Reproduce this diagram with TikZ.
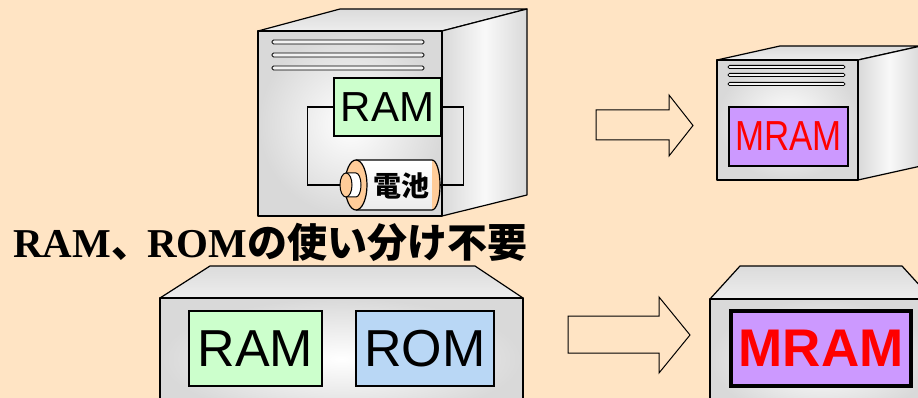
\documentclass[tikz,border=0pt]{standalone}
\usepackage{fontspec}
\newfontfamily\arial{Liberation Sans}
\newfontfamily\timesfont{Liberation Serif}
\newfontfamily\gothic{Noto Sans CJK JP}
\usetikzlibrary{positioning}

\definecolor{bisque}{RGB}{255,228,196}
\definecolor{ramgreen}{RGB}{204,255,204}
\definecolor{romblue}{RGB}{185,215,245}
\definecolor{mrampurple}{RGB}{204,153,255}
\definecolor{battorange}{RGB}{255,204,153}

\newcommand\jp[1]{{\gothic\fontsize{40}{40}\selectfont #1}}

\begin{document}
\begin{tikzpicture}[x=1pt, y=-1pt,
  face/.style={draw, line width=1.2pt, line join=round},
  front/.style={face, inner color=white, outer color=gray!30},
  side/.style={face, left color=gray!30, right color=gray!30, middle color=gray!5},
  lid/.style={face, top color=gray!28, bottom color=gray!14},
  vent/.style={draw, line width=0.8pt, fill=gray!10, rounded corners=1.5pt},
  module/.style={draw, line width=2.8pt, fill=#1, inner sep=0pt},
  wire/.style={draw, line width=1.3pt},
  bigarrow/.style={draw, line width=1pt, line join=miter}]

  \fill[bisque] (0,0) rectangle (918,398);
  \useasboundingbox (0,0) rectangle (918,398);
  \clip (0,0) rectangle (918,398);

  % old machine: RAM kept alive by a battery
  \path[lid]   (258,31) -- (340,9) -- (527,9) -- (442,31) -- cycle;
  \path[side]  (442,31) -- (527,9) -- (527,195) -- (442,216) -- cycle;
  \path[front] (258,31) rectangle (442,216);
  \foreach \y in {42,55,68}
    \path[vent] (272,\y-2) rectangle (424,\y+2);

  \coordinate (battL) at (340,185);
  \coordinate (battR) at (440,185);
  \node[module=ramgreen, minimum width=107pt, minimum height=58pt,
        font=\arial\fontsize{42}{42}\selectfont] (ramA) at (387.5,107) {RAM};
  \draw[wire] (ramA.west) -- ++(-25,0) |- (battL);
  \draw[wire] (ramA.east) -- ++(21,0) |- (battR);

  % battery
  \path[top color=white, bottom color=gray!15]
    (356,160) -- (432,160) arc[start angle=-90, end angle=90, x radius=8, y radius=25]
    -- (356,210) -- cycle;
  \fill[battorange] (432,160) arc[start angle=-90, end angle=90, x radius=8, y radius=25] -- cycle;
  \draw[line width=1.2pt]
    (356,160) -- (432,160) arc[start angle=-90, end angle=90, x radius=8, y radius=25]
    -- (356,210);
  \draw[line width=1.2pt, fill=battorange] (356,185) ellipse[x radius=11, y radius=25];
  \draw[line width=1pt, fill=white]
    (346,173) -- (356,173) arc[start angle=-90, end angle=90, x radius=5, y radius=12]
    -- (346,197) -- cycle;
  \draw[line width=1pt, fill=battorange] (346,185) ellipse[x radius=6, y radius=12];
  \node[font=\gothic\bfseries\fontsize{28}{28}\selectfont] (batt) at (401,186) {電池};

  % new machine, top row
  \draw[bigarrow] (596,110) -- (669,110) -- (669,95) -- (693,125.5)
    -- (669,156) -- (669,140) -- (596,140) -- cycle;
  \path[lid]   (717,60) -- (780,46) -- (921,46) -- (858,60) -- cycle;
  \path[side]  (858,60) -- (921,46) -- (921,166) -- (858,180) -- cycle;
  \path[front] (717,60) rectangle (858,180);
  \foreach \y in {67,75,84}
    \path[vent] (728,\y-1.6) rectangle (845,\y+1.6);
  \node[module=mrampurple, minimum width=119pt, minimum height=59pt, text=red,
        font=\arial\fontsize{42}{42}\selectfont] (mramA) at (788.5,136.5)
        {\scalebox{0.83}[1]{MRAM}};

  \node[anchor=base west, inner sep=0pt, font=\bfseries\fontsize{41}{41}\selectfont]
    (title) at (13,258) {\timesfont RAM\jp{、}\kern-4pt ROM\jp{の使い分け不要}};

  % RAM and ROM side by side
  \path[lid]   (160,298) -- (210,266) -- (475,266) -- (523,298) -- cycle;
  \path[front] (160,298) rectangle (523,420);
  \node[module=ramgreen, minimum width=133pt, minimum height=75pt,
        font=\arial\fontsize{52}{52}\selectfont] (ramB) at (255.5,348.5) {RAM};
  \node[module=romblue, minimum width=138pt, minimum height=75pt,
        font=\arial\fontsize{52}{52}\selectfont] (romB) at (425,348.5) {ROM};

  % one MRAM does both
  \draw[bigarrow] (568,316) -- (659,316) -- (659,297) -- (690,335)
    -- (659,373) -- (659,353) -- (568,353) -- cycle;
  \path[lid]   (710,299) -- (740,266) -- (902,266) -- (932,299) -- cycle;
  \path[front] (710,299) rectangle (932,420);
  \node[module=mrampurple, line width=4pt, minimum width=180pt, minimum height=75pt,
        text=red, font=\arial\bfseries\fontsize{53}{53}\selectfont] (mramB) at (821,348.5) {MRAM};
\end{tikzpicture}
\end{document}
